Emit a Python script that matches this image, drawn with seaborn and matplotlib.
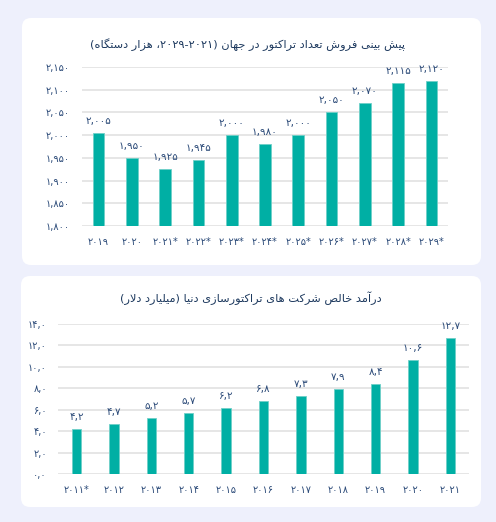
import re
import matplotlib
matplotlib.use("Agg")
import matplotlib.pyplot as plt
from matplotlib.patches import FancyBboxPatch
import seaborn as sns
import pandas as pd

# ---------------- data ----------------
sales_years = ["2019", "2020", "2021*", "2022*", "2023*", "2024*", "2025*",
               "2026*", "2027*", "2028*", "2029*"]
sales_values = [2005, 1950, 1925, 1945, 2000, 1980, 2000, 2050, 2070, 2115, 2120]
sales_ticks = [1800, 1850, 1900, 1950, 2000, 2050, 2100, 2150]

income_years = ["2011*", "2012", "2013", "2014", "2015", "2016", "2017",
                "2018", "2019", "2020", "2021"]
income_values = [4.2, 4.7, 5.2, 5.7, 6.2, 6.8, 7.3, 7.9, 8.4, 10.6, 12.7]
income_ticks = [0, 2, 4, 6, 8, 10, 12, 14]

title_sales = "پیش بینی فروش تعداد تراکتور در جهان (۲۰۲۱-۲۰۲۹، هزار دستگاه)"
title_income = "درآمد خالص شرکت های تراکتورسازی دنیا (میلیارد دلار)"

# ---------------- simple Persian shaping ----------------
FORMS = {
    '\u0627': ('\uFE8D', '\uFE8E', None, None),
    '\u0622': ('\uFE81', '\uFE82', None, None),
    '\u0628': ('\uFE8F', '\uFE90', '\uFE91', '\uFE92'),
    '\u067E': ('\uFB56', '\uFB57', '\uFB58', '\uFB59'),
    '\u062A': ('\uFE95', '\uFE96', '\uFE97', '\uFE98'),
    '\u062C': ('\uFE9D', '\uFE9E', '\uFE9F', '\uFEA0'),
    '\u062E': ('\uFEA5', '\uFEA6', '\uFEA7', '\uFEA8'),
    '\u062F': ('\uFEA9', '\uFEAA', None, None),
    '\u0631': ('\uFEAD', '\uFEAE', None, None),
    '\u0632': ('\uFEAF', '\uFEB0', None, None),
    '\u0633': ('\uFEB1', '\uFEB2', '\uFEB3', '\uFEB4'),
    '\u0634': ('\uFEB5', '\uFEB6', '\uFEB7', '\uFEB8'),
    '\u0635': ('\uFEB9', '\uFEBA', '\uFEBB', '\uFEBC'),
    '\u0639': ('\uFEC9', '\uFECA', '\uFECB', '\uFECC'),
    '\u0641': ('\uFED1', '\uFED2', '\uFED3', '\uFED4'),
    '\u06A9': ('\uFB8E', '\uFB8F', '\uFB90', '\uFB91'),
    '\u06AF': ('\uFB92', '\uFB93', '\uFB94', '\uFB95'),
    '\u0644': ('\uFEDD', '\uFEDE', '\uFEDF', '\uFEE0'),
    '\u0645': ('\uFEE1', '\uFEE2', '\uFEE3', '\uFEE4'),
    '\u0646': ('\uFEE5', '\uFEE6', '\uFEE7', '\uFEE8'),
    '\u0647': ('\uFEE9', '\uFEEA', '\uFEEB', '\uFEEC'),
    '\u0648': ('\uFEED', '\uFEEE', None, None),
    '\u06CC': ('\uFBFC', '\uFBFD', '\uFBFE', '\uFBFF'),
}


def _dual(c):
    return c in FORMS and FORMS[c][2] is not None


def shape(s):
    out = []
    i, n = 0, len(s)
    while i < n:
        c = s[i]
        if c not in FORMS:
            out.append(c)
            i += 1
            continue
        prev = s[i - 1] if i > 0 else ''
        pj = _dual(prev)
        if c == '\u0644' and i + 1 < n and s[i + 1] in ('\u0627', '\u0622'):
            lig = {'\u0627': ('\uFEFB', '\uFEFC'), '\u0622': ('\uFEF5', '\uFEF6')}[s[i + 1]]
            out.append(lig[1] if pj else lig[0])
            i += 2
            continue
        nxt = s[i + 1] if i + 1 < n else ''
        nj = _dual(c) and nxt in FORMS
        iso, fin, ini, med = FORMS[c]
        if pj and nj:
            f = med
        elif pj:
            f = fin
        elif nj:
            f = ini
        else:
            f = iso
        out.append(f)
        i += 1
    return ''.join(out)


def visual(s):
    t = shape(s)[::-1]
    t = re.sub(r'[0-9\u06F0-\u06F9]+', lambda m: m.group(0)[::-1], t)
    return t.translate(str.maketrans('()', ')('))


FA = str.maketrans('0123456789', '۰۱۲۳۴۵۶۷۸۹')


def fa(s):
    return str(s).translate(FA)


def fa_dec(v):
    return fa(f"{v:.1f}").replace('.', ',')


# ---------------- style ----------------
BG = '#eef0fc'
BAR = '#00afa4'
EDGE = '#6fd0c8'
TXT = '#2b4a78'
TITLE = '#1e3a5f'
GRID = '#e4e4e4'

sns.set_theme(style="white")
plt.rcParams['font.family'] = ['DejaVu Sans']

W, H = 496, 522
fig = plt.figure(figsize=(W / 100, H / 100), dpi=100, facecolor=BG)

# white rounded panels (pixel coordinates)
for (x0, y0top, x1, y1bot) in [(22, 18, 481, 265), (21, 276, 481, 507)]:
    fig.patches.append(FancyBboxPatch((x0, H - y1bot), x1 - x0, y1bot - y0top,
                                      boxstyle="round,pad=0,rounding_size=9",
                                      transform=None, facecolor='white',
                                      edgecolor='none', zorder=-5))


def style_axis(ax, ticks, fmt, ypad, xpad):
    ax.set_facecolor('none')
    ax.set_zorder(2)
    for sp in ax.spines.values():
        sp.set_visible(False)
    ax.set_yticks(ticks)
    ax.set_yticklabels([fmt(t) for t in ticks])
    ax.yaxis.grid(True, color=GRID, linewidth=1.3)
    ax.xaxis.grid(False)
    ax.set_axisbelow(True)
    ax.tick_params(axis='y', length=0, pad=ypad, labelsize=7, labelcolor=TXT)
    ax.tick_params(axis='x', length=0, pad=xpad, labelsize=7, labelcolor=TXT)
    ax.set_xlabel('')
    ax.set_ylabel('')


# ---------------- top chart ----------------
df1 = pd.DataFrame({'year': [fa(y) for y in sales_years], 'value': sales_values})
ax1 = fig.add_axes([82 / W, 1 - 226 / H, (448 - 82) / W, (226 - 67) / H])
sns.barplot(data=df1, x='year', y='value', ax=ax1, color=BAR, width=0.35,
            edgecolor=EDGE, linewidth=0.6, saturation=1)
ax1.set_ylim(1800, 2150)
ax1.set_xlim(-0.5, len(sales_years) - 0.5)
style_axis(ax1, sales_ticks, lambda t: fa(f"{t:,}"), 8.5, 8)
ax1.bar_label(ax1.containers[0], labels=[fa(f"{v:,}") for v in sales_values],
              padding=5, fontsize=7.5, color=TXT, clip_on=False)

# ---------------- bottom chart ----------------
df2 = pd.DataFrame({'year': [fa(y) for y in income_years], 'value': income_values})
ax2 = fig.add_axes([58 / W, 1 - 474 / H, (469 - 58) / W, (474 - 324) / H])
sns.barplot(data=df2, x='year', y='value', ax=ax2, color=BAR, width=0.25,
            edgecolor=EDGE, linewidth=0.6, saturation=1)
ax2.set_ylim(0, 14)
ax2.set_xlim(-0.5, len(income_years) - 0.5)
style_axis(ax2, income_ticks, fa_dec, 8, 8)
ax2.bar_label(ax2.containers[0], labels=[fa_dec(v) for v in income_values],
              padding=5, fontsize=7.5, color=TXT, clip_on=False)

# ---------------- titles ----------------
fig.text(248 / W, 1 - 45 / H, visual(title_sales), ha='center', va='center',
         fontsize=8.2, color=TITLE)
fig.text(251 / W, 1 - 298 / H, visual(title_income), ha='center', va='center',
         fontsize=8.2, color=TITLE)

fig.savefig('out.png', dpi=100, facecolor=BG)
